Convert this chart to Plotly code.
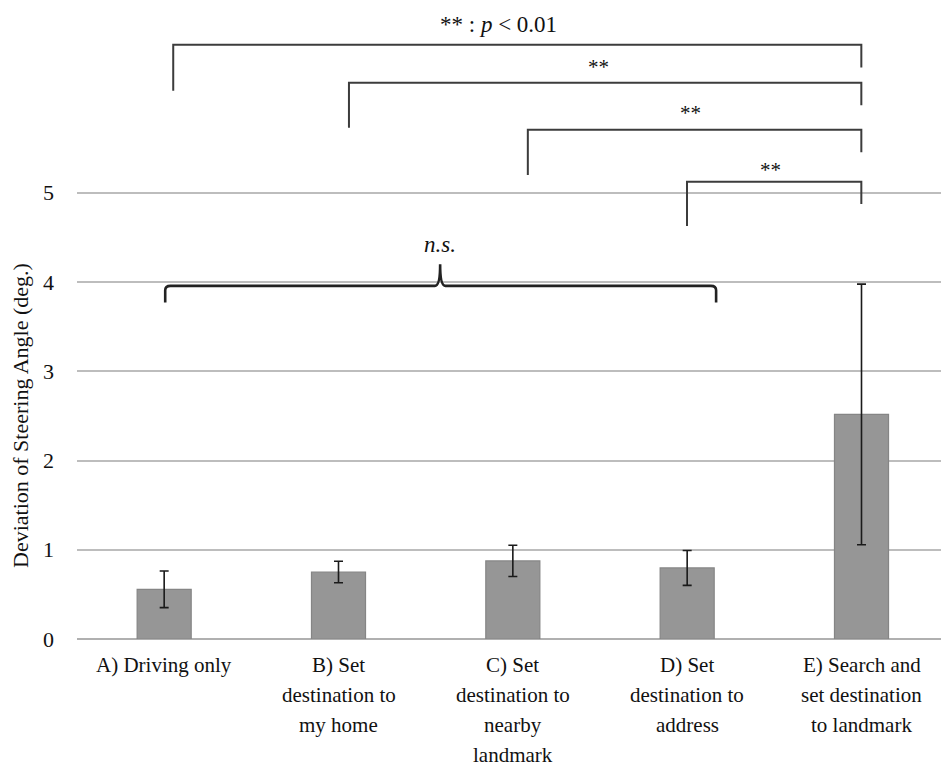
import plotly.graph_objects as go

# Mean deviation of steering angle per task, with standard deviation
categories = ["A", "B", "C", "D", "E"]
label_lines = [
    ["A) Driving only"],
    ["B) Set", "destination to", "my home"],
    ["C) Set", "destination to", "nearby", "landmark"],
    ["D) Set", "destination to", "address"],
    ["E) Search and", "set destination", "to landmark"],
]
means = [0.557, 0.751, 0.875, 0.796, 2.516]
errors = [0.205, 0.12, 0.175, 0.195, 1.46]
y_ticks = [0, 1, 2, 3, 4, 5]

# Significance brackets: left x, right x, bar height, left foot, right foot, label x, label y, label
brackets = [
    (0.052, 3.999, 6.659, 6.143, 6.405, 1.92, 6.88, "** : <i>p</i> &lt; 0.01"),
    (1.060, 3.999, 6.233, 5.729, 5.980, 2.489, 6.41, "**"),
    (2.086, 3.999, 5.706, 5.198, 5.453, 3.017, 5.894, "**"),
    (2.999, 3.999, 5.123, 4.627, 4.873, 3.479, 5.255, "**"),
]
# Curly brace spanning A-D (not significant)
brace_x = [0.006, 1.583, 3.166]
brace_y = [3.77, 3.957, 4.20]
brace_label = "<i>n.s.</i>"
brace_label_y = 4.42

x_idx = list(range(len(categories)))
plot_h = 769 - 130

fig = go.Figure()
fig.add_trace(go.Bar(
    x=x_idx,
    y=means,
    width=0.31,
    marker=dict(color="#969696", line=dict(color="#858585", width=1.2)),
    error_y=dict(type="data", array=errors, visible=True,
                 color="#1a1a1a", thickness=1.6, width=4.5),
    showlegend=False,
))

shapes = []
annotations = []
line_style = dict(color="#3c3c3c", width=2)
for x1, x2, yb, yl, yr, lx, ly, text in brackets:
    shapes.append(dict(
        type="path", xref="x", yref="y",
        path=f"M {x1},{yl} L {x1},{yb} L {x2},{yb} L {x2},{yr}",
        line=line_style,
    ))
    annotations.append(dict(
        x=lx, y=ly, xref="x", yref="y", text=text, showarrow=False,
        font=dict(family="Liberation Serif", size=23 if "p" in text else 21,
                  color="#111111"),
    ))

bl, bm, br = brace_x
ylo, ymid, ytop = brace_y
d = 0.03
dy = 0.05
brace_path = (
    f"M {bl},{ylo} L {bl},{ymid - dy} Q {bl},{ymid} {bl + d},{ymid} "
    f"L {bm - d},{ymid} Q {bm},{ymid} {bm},{ytop} "
    f"Q {bm},{ymid} {bm + d},{ymid} "
    f"L {br - d},{ymid} Q {br},{ymid} {br},{ymid - dy} L {br},{ylo}"
)
shapes.append(dict(type="path", xref="x", yref="y", path=brace_path,
                   line=dict(color="#222222", width=2.6)))
annotations.append(dict(
    x=bm, y=brace_label_y, xref="x", yref="y", text=brace_label,
    showarrow=False, font=dict(family="Liberation Serif", size=23, color="#111111"),
))

# Category labels, one line at a time for wider line spacing
for xi, lines in zip(x_idx, label_lines):
    for k, line in enumerate(lines):
        annotations.append(dict(
            x=xi, y=(-26 - 30 * k) / plot_h, xref="x", yref="paper",
            yanchor="middle", text=line, showarrow=False,
            font=dict(family="Liberation Serif", size=21, color="#111111"),
        ))

# Axis title
annotations.append(dict(
    x=-0.066, y=(639 - 415) / plot_h, xref="paper", yref="paper",
    xanchor="center", yanchor="middle",
    text="Deviation of Steering Angle (deg.)", textangle=-90, showarrow=False,
    font=dict(family="Liberation Serif", size=22, color="#111111"),
))

fig.update_layout(
    width=941, height=769,
    margin=dict(l=77, r=0, t=0, b=130),
    paper_bgcolor="white", plot_bgcolor="white",
    font=dict(family="Liberation Serif", size=21, color="#111111"),
    xaxis=dict(range=[-0.5, 4.456], showticklabels=False, showgrid=False,
               zeroline=False, showline=False, ticks=""),
    yaxis=dict(range=[0, 7.16], tickvals=y_ticks, showgrid=True,
               gridcolor="#bdbdbd", gridwidth=1.5, zeroline=True,
               zerolinecolor="#b0b0b0", zerolinewidth=1.5, showline=False,
               ticks="", ticklabelstandoff=22,
               tickfont=dict(family="Liberation Serif", size=22, color="#111111")),
    shapes=shapes,
    annotations=annotations,
    bargap=0.69,
)

fig.write_html("out.html")
